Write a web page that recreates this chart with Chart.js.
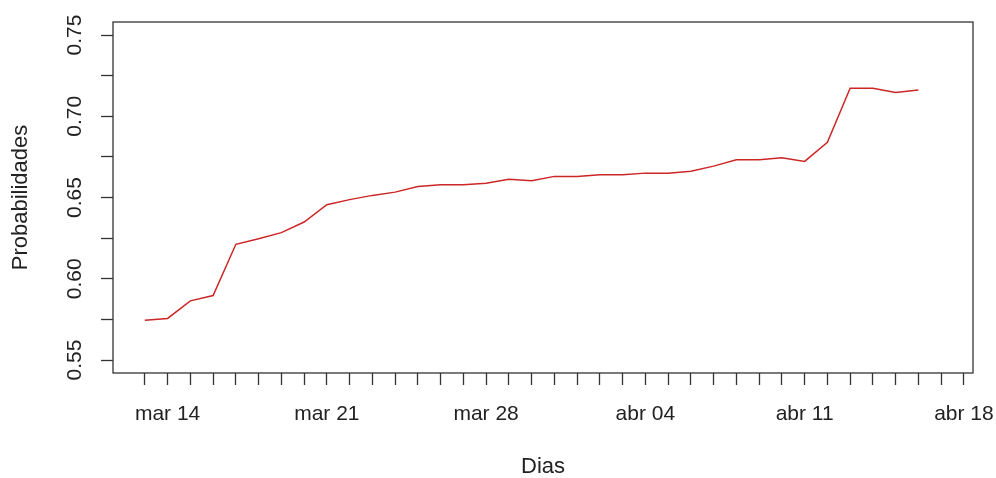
<!DOCTYPE html>
<html>
<head>
<meta charset="utf-8">
<script src="https://cdn.jsdelivr.net/npm/chart.js@4/dist/chart.umd.min.js"></script>
<style>
  html, body { margin: 0; padding: 0; background: #ffffff; }
  #wrap { width: 996px; height: 478px; }
</style>
</head>
<body>
<div id="wrap"><canvas id="grafico" width="996" height="478"></canvas></div>
<script>
// Daily series
const dias = [
  '2021-03-13','2021-03-14','2021-03-15','2021-03-16','2021-03-17','2021-03-18','2021-03-19',
  '2021-03-20','2021-03-21','2021-03-22','2021-03-23','2021-03-24','2021-03-25','2021-03-26',
  '2021-03-27','2021-03-28','2021-03-29','2021-03-30','2021-03-31','2021-04-01','2021-04-02',
  '2021-04-03','2021-04-04','2021-04-05','2021-04-06','2021-04-07','2021-04-08','2021-04-09',
  '2021-04-10','2021-04-11','2021-04-12','2021-04-13','2021-04-14','2021-04-15','2021-04-16'
];
const probabilidades = [
  0.5745, 0.5756, 0.5864, 0.5897, 0.6212, 0.6246, 0.6284,
  0.6349, 0.6456, 0.6487, 0.6513, 0.6533, 0.6568, 0.6579,
  0.6579, 0.6588, 0.6612, 0.6603, 0.6630, 0.6630, 0.6640,
  0.6640, 0.6650, 0.6650, 0.6662, 0.6693, 0.6732, 0.6732,
  0.6744, 0.6722, 0.6840, 0.7172, 0.7172, 0.7146, 0.7162
];

// Axis limits (date span of the x axis, value span of the y axis)
const limiteDias = ['2021-03-13', '2021-04-17'];
const limiteY = [0.55, 0.75];

// Axis ticks and labels
const diasMarcados = ['2021-03-14','2021-03-21','2021-03-28','2021-04-04','2021-04-11','2021-04-18'];
const etiquetasX = ['mar 14','mar 21','mar 28','abr 04','abr 11','abr 18'];
const marcasY = [0.55, 0.575, 0.60, 0.625, 0.65, 0.675, 0.70, 0.725, 0.75];
const etiquetasY = [0.55, 0.60, 0.65, 0.70, 0.75];

const DAY = 86400000;
const origen = Date.parse(dias[0]);
const aDia = s => Math.round((Date.parse(s) - origen) / DAY);

const xLo = aDia(limiteDias[0]), xHi = aDia(limiteDias[1]);
const xPad = (xHi - xLo) * 0.04;
const yPad = (limiteY[1] - limiteY[0]) * 0.04;

const posMarcados = diasMarcados.map(aDia);
const primerDia = xLo, ultimoDia = posMarcados[posMarcados.length - 1];

const FONT = "'Liberation Sans', Arial, sans-serif";
const INK = '#222222';

const marco = {
  id: 'marco',
  afterDraw(chart) {
    const { ctx, chartArea: a, scales } = chart;
    ctx.save();
    // plot box
    ctx.strokeStyle = '#333333';
    ctx.lineWidth = 1.3;
    ctx.strokeRect(a.left, a.top, a.right - a.left, a.bottom - a.top);

    // y tick labels, parallel to the axis
    ctx.fillStyle = INK;
    ctx.font = '21px ' + FONT;
    ctx.textAlign = 'center';
    ctx.textBaseline = 'middle';
    etiquetasY.forEach(v => {
      const y = scales.y.getPixelForValue(v);
      ctx.save();
      ctx.translate(75, y);
      ctx.rotate(-Math.PI / 2);
      ctx.fillText(v.toFixed(2), 0, 0);
      ctx.restore();
    });

    // axis titles
    ctx.font = '22px ' + FONT;
    ctx.save();
    ctx.translate(21, (a.top + a.bottom) / 2);
    ctx.rotate(-Math.PI / 2);
    ctx.fillText('Probabilidades', 0, 0);
    ctx.restore();
    ctx.fillText('Dias', (a.left + a.right) / 2, 467);
    ctx.restore();
  }
};

new Chart(document.getElementById('grafico'), {
  type: 'line',
  data: {
    datasets: [{
      data: dias.map((d, i) => ({ x: aDia(d), y: probabilidades[i] })),
      borderColor: '#cd2626',
      borderWidth: 1.5,
      pointRadius: 0,
      tension: 0,
      fill: false
    }]
  },
  options: {
    responsive: false,
    animation: false,
    devicePixelRatio: 1,
    layout: { padding: { left: 0, right: 23, top: 22, bottom: 0 } },
    plugins: { legend: { display: false }, tooltip: { enabled: false } },
    scales: {
      x: {
        type: 'linear',
        min: xLo - xPad,
        max: xHi + xPad,
        afterBuildTicks(scale) {
          const t = [];
          for (let d = primerDia; d <= ultimoDia; d++) t.push({ value: d });
          scale.ticks = t;
        },
        afterFit(scale) {
          scale.height = 105;
          scale.paddingLeft = 0;
          scale.paddingRight = 0;
        },
        border: { display: false },
        grid: {
          drawOnChartArea: false,
          drawTicks: true,
          tickLength: 12,
          tickWidth: 1.3,
          tickColor: '#333333'
        },
        ticks: {
          autoSkip: false,
          maxRotation: 0,
          minRotation: 0,
          padding: 17,
          color: INK,
          font: { family: FONT, size: 21 },
          callback(v) {
            const k = posMarcados.indexOf(v);
            return k >= 0 ? etiquetasX[k] : '';
          }
        }
      },
      y: {
        type: 'linear',
        min: limiteY[0] - yPad,
        max: limiteY[1] + yPad,
        afterBuildTicks(scale) {
          scale.ticks = marcasY.map(v => ({ value: v }));
        },
        afterFit(scale) {
          scale.width = 113;
          scale.paddingTop = 0;
          scale.paddingBottom = 0;
        },
        border: { display: false },
        grid: {
          drawOnChartArea: false,
          drawTicks: true,
          tickLength: 12,
          tickWidth: 1.3,
          tickColor: '#333333'
        },
        ticks: { display: false }
      }
    }
  },
  plugins: [marco]
});
</script>
</body>
</html>
